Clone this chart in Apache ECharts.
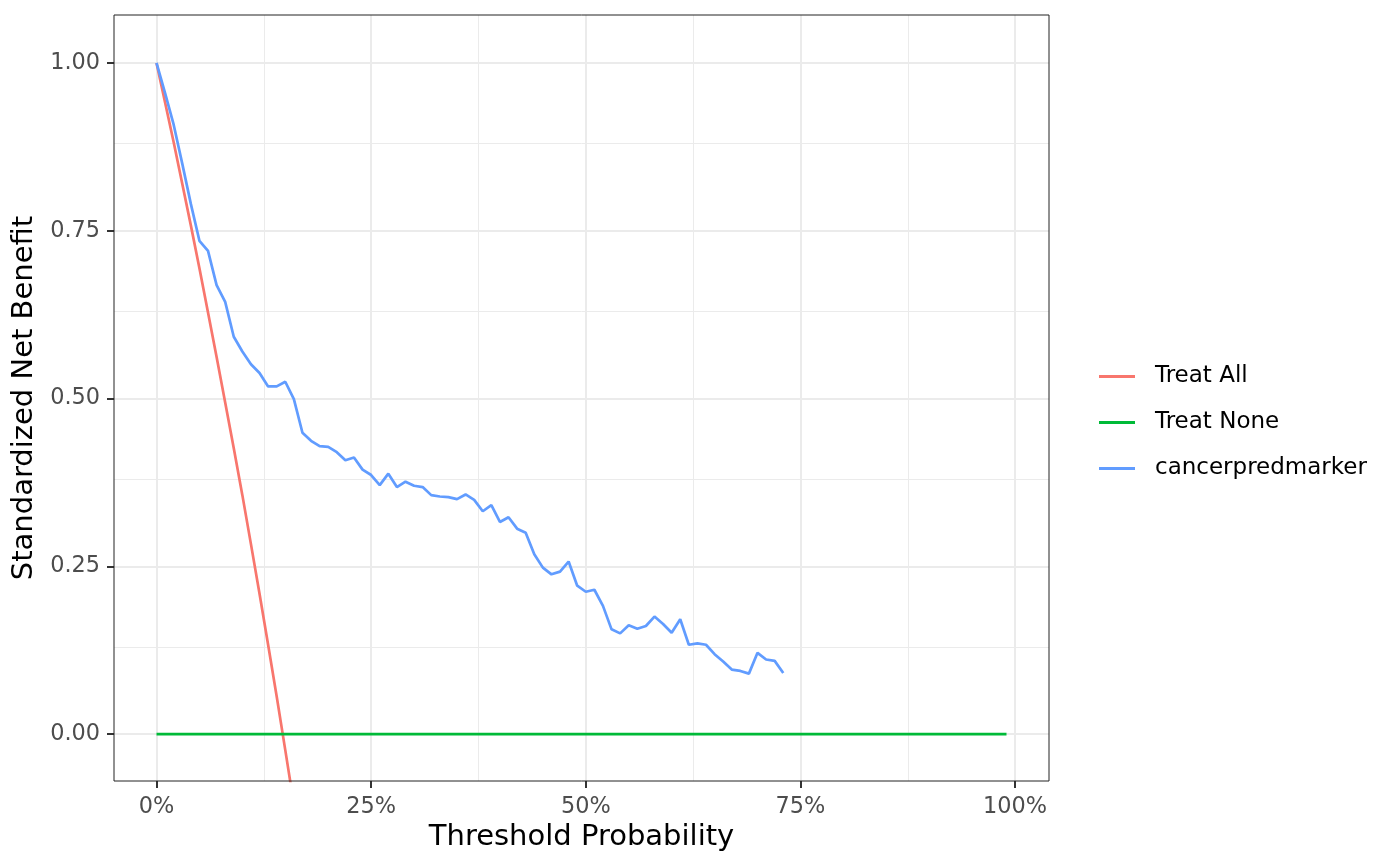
<!DOCTYPE html>
<html>
<head>
<meta charset="utf-8">
<script src="https://cdn.jsdelivr.net/npm/echarts@6/dist/echarts.min.js"></script>
<style>html,body{margin:0;padding:0;background:#fff}#c{width:1400px;height:866px}</style>
</head>
<body>
<div id="c"></div>
<script>
const thresholdPct = [0,1,2,3,4,5,6,7,8,9,10,11,12,13,14,15,16,17,18,19,20,21,22,23,24,25,26,27,28,29,30,31,32,33,34,35,36,37,38,39,40,41,42,43,44,45,46,47,48,49,50,51,52,53,54,55,56,57,58,59,60,61,62,63,64,65,66,67,68,69,70,71,72,73];
const markerNB = [1.000,0.955,0.908,0.850,0.790,0.735,0.720,0.669,0.644,0.592,0.570,0.551,0.538,0.518,0.518,0.525,0.499,0.449,0.437,0.429,0.428,0.420,0.408,0.412,0.394,0.386,0.371,0.388,0.368,0.376,0.370,0.368,0.356,0.354,0.353,0.350,0.357,0.349,0.332,0.341,0.316,0.323,0.306,0.300,0.268,0.248,0.238,0.242,0.257,0.221,0.212,0.215,0.191,0.156,0.150,0.162,0.157,0.161,0.175,0.164,0.151,0.171,0.133,0.135,0.133,0.119,0.108,0.096,0.094,0.090,0.121,0.111,0.109,0.091];
const treatAllPct = [0,1,2,3,4,5,6,7,8,9,10,11,12,13,14,15,16,17];
const treatAllNB = [1.000,0.941,0.882,0.820,0.758,0.694,0.628,0.562,0.494,0.426,0.356,0.283,0.209,0.133,0.056,-0.024,-0.105,-0.188];
const treatNonePct = [0,99];
const treatNoneNB = [0,0];
const xTicks = [0,25,50,75,100];
const xMinor = [12.5,37.5,62.5,87.5];
const yTicks = [0,0.25,0.5,0.75,1];
const yMinor = [0.125,0.375,0.625,0.875];
const yTickLabels = ['0.00','0.25','0.50','0.75','1.00'];
const seriesNames = ['Treat All','Treat None','cancerpredmarker'];
const colors = ['#F8766D','#00BA38','#619CFF'];

const zip = (xs, ys) => xs.map((x, i) => [x, ys[i]]);
const font = 'DejaVu Sans';

const gridLines = [];
xMinor.forEach(v => gridLines.push({xAxis: v, lineStyle: {width: 1}}));
yMinor.forEach(v => gridLines.push({yAxis: v, lineStyle: {width: 1}}));
xTicks.forEach(v => gridLines.push({xAxis: v, lineStyle: {width: 2}}));
yTicks.forEach(v => gridLines.push({yAxis: v, lineStyle: {width: 2}}));

const chart = echarts.init(document.getElementById('c'));
chart.setOption({
  animation: false,
  backgroundColor: '#fff',
  textStyle: {fontFamily: font},
  grid: {left: 114, right: 351, top: 15, bottom: 85, show: true, borderColor: '#222222', borderWidth: 1, backgroundColor: 'transparent', z: 10},
  legend: {
    orient: 'vertical', left: 1094, top: 360, itemGap: 23,
    itemWidth: 36, itemHeight: 3, icon: 'rect',
    textStyle: {fontFamily: font, fontSize: 23, color: '#000', padding: [0,0,0,15]},
    data: seriesNames
  },
  xAxis: {
    type: 'value', min: -4.95, max: 103.95,
    name: 'Threshold Probability', nameLocation: 'middle', nameGap: 42,
    nameTextStyle: {fontFamily: font, fontSize: 29, color: '#000'},
    axisLine: {show: false, onZero: false},
    axisTick: {show: true, length: 7, lineStyle: {color: '#333333', width: 2}, customValues: xTicks},
    axisLabel: {customValues: xTicks, formatter: v => v + '%', fontFamily: font, fontSize: 22.4, color: '#4D4D4D', margin: 15},
    splitLine: {show: false}
  },
  yAxis: {
    type: 'value', min: -0.07, max: 1.0715,
    name: 'Standardized Net Benefit', nameLocation: 'middle', nameGap: 69,
    nameTextStyle: {fontFamily: font, fontSize: 29, color: '#000'},
    axisLine: {show: false, onZero: false},
    axisTick: {show: true, length: 7, lineStyle: {color: '#333333', width: 2}, customValues: yTicks},
    axisLabel: {customValues: yTicks, formatter: v => yTickLabels[yTicks.indexOf(Math.round(v*100)/100)] ?? '', fontFamily: font, fontSize: 22.4, color: '#4D4D4D', margin: 14},
    splitLine: {show: false}
  },
  series: [
    {
      name: '_grid', type: 'line', data: [], z: 1, silent: true,
      markLine: {silent: true, z: 1, symbol: ['none','none'], label: {show: false}, animation: false,
        lineStyle: {color: '#EBEBEB', type: 'solid'}, emphasis: {disabled: true}, data: gridLines}
    },
    {name: seriesNames[0], type: 'line', data: zip(treatAllPct, treatAllNB), showSymbol: false, symbol: 'none', clip: true, z: 3,
      lineStyle: {color: colors[0], width: 2.7}, itemStyle: {color: colors[0]}},
    {name: seriesNames[1], type: 'line', data: zip(treatNonePct, treatNoneNB), showSymbol: false, symbol: 'none', clip: true, z: 3,
      lineStyle: {color: colors[1], width: 2.7}, itemStyle: {color: colors[1]}},
    {name: seriesNames[2], type: 'line', data: zip(thresholdPct, markerNB), showSymbol: false, symbol: 'none', clip: true, z: 3,
      lineStyle: {color: colors[2], width: 2.7}, itemStyle: {color: colors[2]}}
  ]
});
</script>
</body>
</html>
